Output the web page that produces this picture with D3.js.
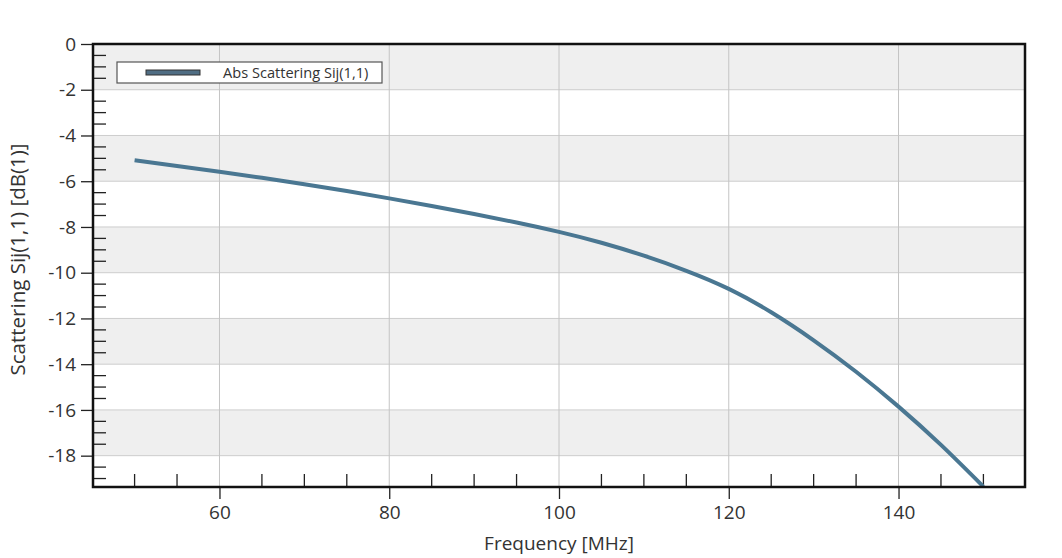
<!DOCTYPE html>
<html>
<head>
<meta charset="utf-8">
<script src="https://cdn.jsdelivr.net/npm/d3@7"></script>
<style>
  body { margin: 0; background: #fff; }
  text { font-family: "Open Sans", "Noto Sans", sans-serif; fill: #333; }
</style>
</head>
<body>
<div id="chart"></div>
<script>
// frequency in MHz, S11 in dB
var freq = [50, 55, 60, 65, 70, 75, 80, 85, 90, 95, 100, 105, 110, 115, 120, 125, 130, 135, 140, 145, 150];
var s11 = [-5.08, -5.33, -5.585, -5.85, -6.13, -6.43, -6.75, -7.085, -7.435, -7.805, -8.215, -8.69, -9.255, -9.915, -10.705, -11.73, -12.955, -14.33, -15.855, -17.53, -19.355];
var xTicks = [60, 80, 100, 120, 140];
var yTicks = [0, -2, -4, -6, -8, -10, -12, -14, -16, -18];
var seriesName = "Abs Scattering Sij(1,1)";

var width = 1062,
    height = 558,
    margin = {top: 44, right: 37, bottom: 71, left: 93},
    w = width - margin.left - margin.right,
    h = height - margin.top - margin.bottom;

var svg = d3.select("#chart").append("svg")
    .attr("width", width)
    .attr("height", height);

var g = svg.append("g")
    .attr("transform", "translate(" + margin.left + "," + margin.top + ")");

var x = d3.scaleLinear().domain([45.1, 154.9]).range([0, w]);
var y = d3.scaleLinear().domain([-19.37, 0]).range([h, 0]);

g.append("clipPath").attr("id", "clip")
  .append("rect").attr("width", w).attr("height", h);

// alternating bands, grey from 0..-2, -4..-6 etc
var bands = d3.range(0, yTicks.length, 2).map(i => yTicks[i]);
g.selectAll("rect.band")
    .data(bands)
    .enter().append("rect")
    .attr("class", "band")
    .attr("x", 0)
    .attr("width", w)
    .attr("y", d => y(d))
    .attr("height", d => y(d - 2) - y(d))
    .style("fill", "#efefef");

// grid
g.selectAll("line.hgrid")
    .data(yTicks.slice(1))
    .enter().append("line")
    .attr("class", "hgrid")
    .attr("x1", 0).attr("x2", w)
    .attr("y1", d => y(d)).attr("y2", d => y(d))
    .style("stroke", "#cdcdcd");

g.selectAll("line.vgrid")
    .data(xTicks)
    .enter().append("line")
    .attr("class", "vgrid")
    .attr("y1", 0).attr("y2", h)
    .attr("x1", d => x(d)).attr("x2", d => x(d))
    .style("stroke", "#c4c4c4");

// minor ticks point into the plot
var xMinor = d3.range(50, 155, 5).filter(d => xTicks.indexOf(d) < 0);
var yMinor = d3.range(-0.5, -19.4, -0.5).filter(d => d % 2 != 0);

g.selectAll("line.xminor")
    .data(xMinor)
    .enter().append("line")
    .attr("x1", d => x(d)).attr("x2", d => x(d))
    .attr("y1", h).attr("y2", h - 13)
    .style("stroke", "#222").style("stroke-width", 1.3);

g.selectAll("line.yminor")
    .data(yMinor)
    .enter().append("line")
    .attr("y1", d => y(d)).attr("y2", d => y(d))
    .attr("x1", 0).attr("x2", 13)
    .style("stroke", "#222").style("stroke-width", 1.3);

// curve
var line = d3.line()
    .x((d, i) => x(freq[i]))
    .y(d => y(d))
    .curve(d3.curveNatural);

g.append("path")
    .datum(s11)
    .attr("clip-path", "url(#clip)")
    .attr("d", line)
    .style("fill", "none")
    .style("stroke", "#4a7792")
    .style("stroke-width", 4);

// axes, plain hyphen for negatives like the original
var fmt = d => String(d);
var xAxis = g.append("g")
    .attr("transform", "translate(0," + h + ")")
    .call(d3.axisBottom(x).tickValues(xTicks).tickFormat(fmt).tickSize(12).tickPadding(7));

var yAxis = g.append("g")
    .call(d3.axisLeft(y).tickValues(yTicks).tickFormat(fmt).tickSize(12).tickPadding(5));

[xAxis, yAxis].forEach(a => {
    a.select(".domain").remove();
    a.selectAll("line").style("stroke", "#222").style("stroke-width", 1.3);
    a.selectAll("text").style("font-size", "19px").style("fill", "#333");
});

// frame
g.append("rect")
    .attr("width", w)
    .attr("height", h)
    .style("fill", "none")
    .style("stroke", "#111")
    .style("stroke-width", 2.5);

// legend
var lg = g.append("g").attr("transform", "translate(24,18)");
lg.append("rect")
    .attr("width", 265).attr("height", 21)
    .style("fill", "#fff").style("stroke", "#555").style("stroke-width", 1.2);
lg.append("rect")
    .attr("x", 29).attr("y", 8).attr("width", 54).attr("height", 5)
    .style("fill", "#506e84").style("stroke", "#333").style("stroke-width", 1);
lg.append("text")
    .attr("x", 106).attr("y", 16)
    .style("font-size", "14.6px")
    .text(seriesName);

// axis titles
svg.append("text")
    .attr("x", margin.left + x(100))
    .attr("y", 550)
    .attr("text-anchor", "middle")
    .style("font-size", "19px")
    .text("Frequency [MHz]");

svg.append("text")
    .attr("transform", "translate(25," + (margin.top + h / 2 - 6) + ") rotate(-90)")
    .attr("text-anchor", "middle")
    .style("font-size", "20.5px")
    .text("Scattering Sij(1,1) [dB(1)]");
</script>
</body>
</html>
